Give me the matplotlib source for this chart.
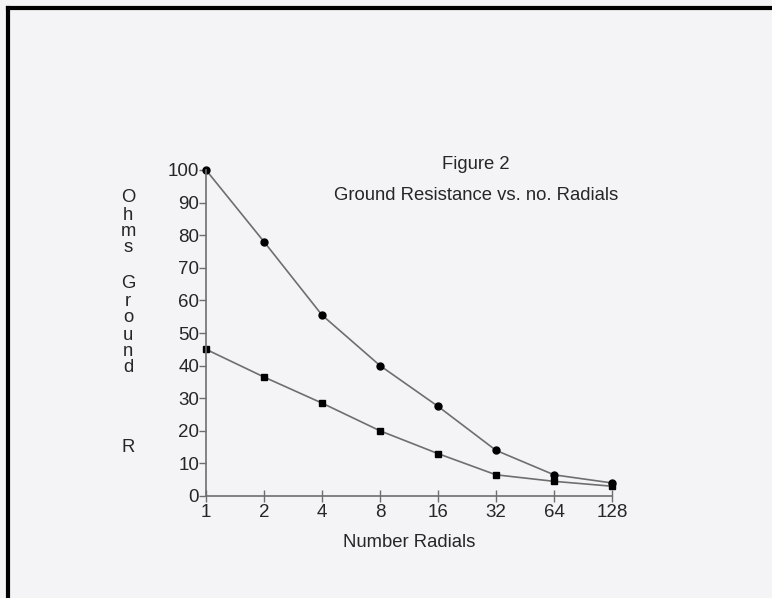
import numpy as np
import matplotlib.pyplot as plt
from matplotlib.lines import Line2D

## Data ###############################################################
radials    = [1, 2, 4, 8, 16, 32, 64, 128]              # number of radials
ohms_upper = [100, 78, 55.5, 40, 27.5, 14, 6.5, 4]      # dot markers
ohms_lower = [45, 36.5, 28.5, 20, 13, 6.5, 4.5, 3]      # square markers
yticks     = [0, 10, 20, 30, 40, 50, 60, 70, 80, 90, 100]
ylabel_chars = ['O', 'h', 'm', 's', 'G', 'r', 'o', 'u', 'n', 'd', 'R']
ylabel_rows  = [198, 215, 231, 247, 284, 301, 318, 335, 351, 367, 447]  # pixel rows
#######################################################################

plt.rcParams['font.family'] = ['Liberation Sans', 'DejaVu Sans']
W, H = 772, 598
txt = '#262626'
fig = plt.figure(figsize=(W/100, H/100), dpi=100)
fig.patch.set_facecolor('#f4f4f7')

# scan border (top + left)
fig.add_artist(Line2D([8/W, 8/W], [0, 1-8/H], color='black', lw=3, transform=fig.transFigure))
fig.add_artist(Line2D([8/W, 1], [1-8/H, 1-8/H], color='black', lw=3, transform=fig.transFigure))

ax = fig.add_axes([206/W, 1-496/H, (612-206)/W, (496-170)/H])
ax.set_facecolor('none')
ax.set_xscale('log', base=2)
ax.plot(radials, ohms_upper, '-', color='#6e6e6e', lw=1.2,
        marker='o', ms=5, mfc='black', mec='black', clip_on=False)
ax.plot(radials, ohms_lower, '-', color='#6e6e6e', lw=1.2,
        marker='s', ms=4.5, mfc='black', mec='black', clip_on=False)

ax.set_xlim(1, 128)
ax.set_ylim(0, 100)
ax.set_xticks(radials)
ax.set_xticklabels([str(r) for r in radials])
ax.minorticks_off()
ax.set_yticks(yticks)
for s in ['top', 'right']:
    ax.spines[s].set_visible(False)
for s in ['left', 'bottom']:
    ax.spines[s].set_color('#6e6e6e')
    ax.spines[s].set_linewidth(1.2)
ax.tick_params(axis='y', direction='out', length=5, width=1, color='#6e6e6e',
               pad=0, labelsize=13.5, labelcolor=txt)
ax.tick_params(axis='x', direction='inout', length=8, width=1, color='#6e6e6e',
               pad=2, labelsize=13.5, labelcolor=txt)

ax.set_xlabel('Number Radials', fontsize=13.3, color=txt, labelpad=9)

fig.text(476/W, 1-165/H, 'Figure 2', ha='center', va='center', fontsize=13.3, color=txt)
fig.text(476/W, 1-196/H, 'Ground Resistance vs. no. Radials', ha='center', va='center',
         fontsize=13.3, color=txt)

for ch, row in zip(ylabel_chars, ylabel_rows):
    fig.text(128/W, 1-row/H, ch, ha='center', va='center', fontsize=13.3, color=txt)

fig.savefig('out.png', dpi=100, facecolor=fig.get_facecolor())
